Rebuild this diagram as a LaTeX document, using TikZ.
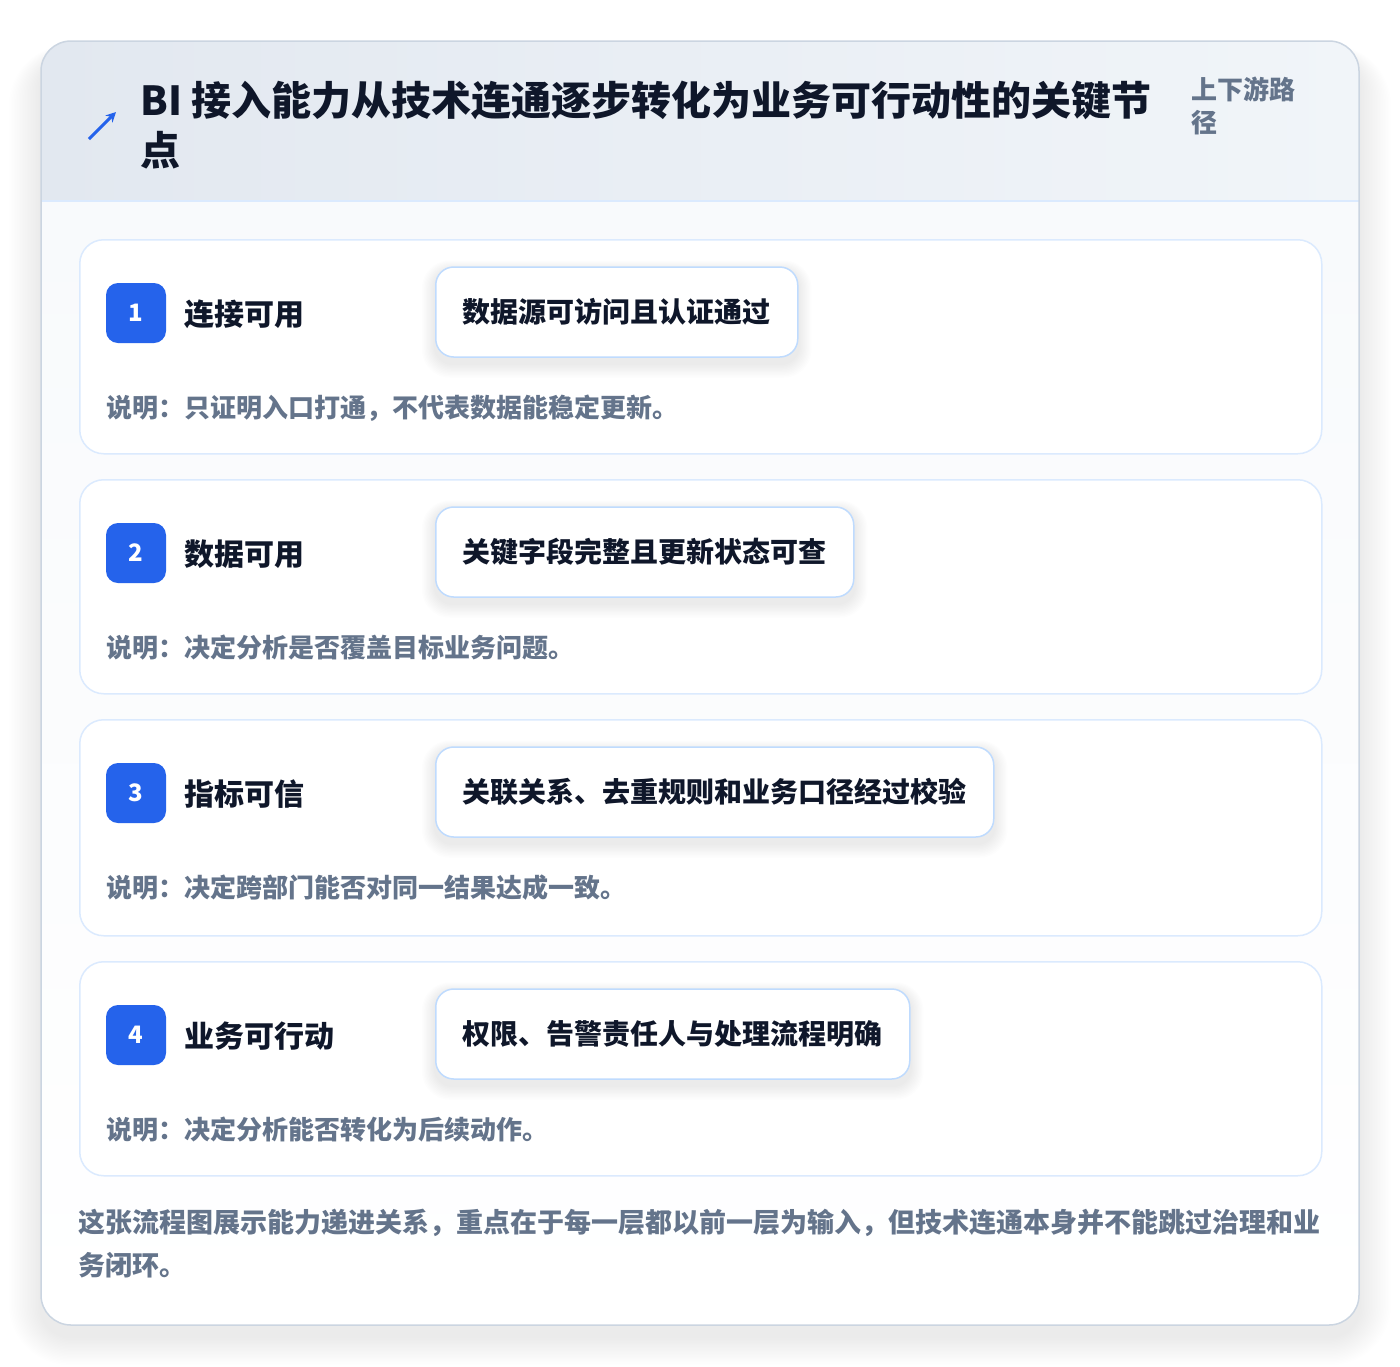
\documentclass[tikz,border=0pt]{standalone}
\usepackage{fontspec}
\setmainfont{Noto Sans CJK SC}[BoldFont={Noto Sans CJK SC Black}]
\usetikzlibrary{arrows.meta}
\pgfdeclarelayer{shad}
\pgfdeclarelayer{front}
\pgfsetlayers{main,shad,front}
\definecolor{cBlue}{HTML}{2563EB}
\definecolor{cInk}{HTML}{0F172A}
\definecolor{cMuted}{HTML}{64748B}
\definecolor{cLine}{HTML}{DBEAFE}
\definecolor{cPill}{HTML}{BFDBFE}
\definecolor{cCard}{HTML}{CBD5E1}
\definecolor{cHeadL}{HTML}{E2E8F0}
\definecolor{cHeadR}{HTML}{F1F5F9}
\definecolor{cBody}{HTML}{F8FAFC}
\tikzset{
  stepcard/.style={draw=cLine, line width=1.5pt, fill=white, rounded corners=24pt, anchor=north west, inner sep=0pt},
  badge/.style={fill=cBlue, rounded corners=12pt, minimum width=60pt, minimum height=60pt, inner sep=0pt, text=white, font=\bfseries\fontsize{24}{24}\selectfont},
  steplabel/.style={anchor=west, text=cInk, font=\bfseries\fontsize{30}{30}\selectfont, inner sep=0pt},
  pill/.style={draw=cPill, line width=1.5pt, fill=white, rounded corners=18pt, minimum height=90pt, inner xsep=27pt, anchor=west, text=cInk, font=\bfseries\fontsize{28}{28}\selectfont},
  desc/.style={anchor=west, text=cMuted, font=\bfseries\fontsize{26}{26}\selectfont, inner sep=0pt},
}
\begin{document}
\begin{tikzpicture}[x=1pt,y=-1pt]
\useasboundingbox (0,0) rectangle (1400,1366);
\fill[white] (0,0) rectangle (1400,1366);
% outer card shadow
\foreach \i in {1,...,20}{
  \fill[black, opacity=0.0042, rounded corners=30pt+\i*1.5pt] (41-\i*1.6,41+16-\i*0.6) rectangle (1359+\i*1.6,1325+12+\i*1.4);
}
% outer card
\fill[white, rounded corners=30pt] (41,41) rectangle (1359,1325);
\begin{scope}
  \clip[rounded corners=30pt] (41,41) rectangle (1359,1325);
  \shade[left color=cHeadL, right color=cHeadR] (41,41) rectangle (1359,201);
  \shade[top color=cBody, bottom color=white] (41,201) rectangle (1359,1325);
\end{scope}
\draw[cLine, line width=1.5pt] (41,201) -- (1359,201);
\draw[cCard, line width=1.5pt, rounded corners=30pt] (41,41) rectangle (1359,1325);
% header
\coordinate (ia) at (89,139);
\coordinate (ib) at (116,112);
\draw[cBlue, line width=3pt, -{Stealth[length=10pt,width=10pt]}] (ia) -- (ib);
\node[anchor=west, text=cInk, font=\bfseries\fontsize{40}{50}\selectfont, inner sep=0pt, align=left] (title) at (140,125) {BI 接入能力从技术连通逐步转化为业务可行动性的关键节\\点};
\node[anchor=west, text=cMuted, font=\bfseries\fontsize{26}{33}\selectfont, inner sep=0pt, align=left] (side) at (1191,106) {上下游路\\径};
% step cards
\foreach \n/\tp/\h/\lab/\pp/\dd in {
  1/239/214/连接可用/数据源可访问且认证通过/说明：只证明入口打通，不代表数据能稳定更新。,
  2/479/214/数据可用/关键字段完整且更新状态可查/说明：决定分析是否覆盖目标业务问题。,
  3/719/216/指标可信/关联关系、去重规则和业务口径经过校验/说明：决定跨部门能否对同一结果达成一致。,
  4/961/214/业务可行动/权限、告警责任人与处理流程明确/说明：决定分析能否转化为后续动作。}{
  \node[stepcard, minimum width=1242pt, minimum height=\h pt] (card\n) at (79,\tp) {};
  \begin{pgfonlayer}{front}
  \node[badge] (badge\n) at (136,\tp+74) {\n};
  \node[steplabel] (lab\n) at (184,\tp+75) {\lab};
  \node[pill] (pill\n) at (435,\tp+73) {\pp};
  \node[desc] (desc\n) at (106,\tp+169) {\dd};
  \end{pgfonlayer}
  \begin{pgfonlayer}{shad}
  \foreach \k in {1,...,10}{
    \fill[black, opacity=0.007, rounded corners=18pt+\k*1pt] ([xshift=-\k*1.3pt, yshift=-4pt+\k*1.0pt]pill\n.north west) rectangle ([xshift=\k*1.3pt, yshift=-6pt-\k*1.4pt]pill\n.south east);
  }
  \end{pgfonlayer}
}
% footer
\node[anchor=north west, text=cMuted, font=\bfseries\fontsize{27}{43}\selectfont, inner sep=0pt, align=left] (foot) at (78,1209) {这张流程图展示能力递进关系，重点在于每一层都以前一层为输入，但技术连通本身并不能跳过治理和业\\务闭环。};
\end{tikzpicture}
\end{document}
